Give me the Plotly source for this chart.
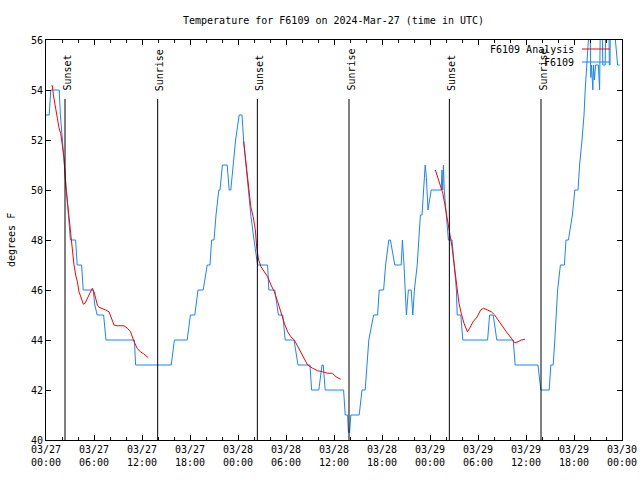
import plotly.graph_objects as go

# ---------------- data (hours since 2024-03-27 00:00 UTC) ----------------
blue_hours = [0.0, 0.4, 0.6, 1.65, 1.8, 2.05, 2.3, 2.55, 2.8, 3.05, 3.7, 3.9, 4.45, 4.65,
              5.65, 5.9, 6.1, 6.4, 7.2, 7.5, 11.05, 11.2, 15.65, 16.05, 17.65, 18.05, 18.6,
              19.0, 19.65, 20.15, 20.5, 20.7, 21.0, 21.25, 21.6, 21.75, 22.05, 22.65, 22.9,
              23.1, 23.4, 23.7, 24.15, 24.5, 24.7, 25.0, 25.3, 25.6, 26.0, 26.45, 27.7, 27.85,
              28.6, 29.05, 29.6, 29.9, 31.0, 31.5, 33.0, 33.2, 34.1, 34.5, 34.65, 34.9, 37.2,
              37.4, 37.7, 37.8, 37.95, 38.1, 39.15, 39.5, 39.9, 40.1, 40.35, 40.95, 41.45,
              41.65, 42.2, 42.45, 42.85, 43.05, 43.3, 43.6, 44.4, 44.55, 44.75, 45.05, 45.3,
              45.65, 45.85, 46.05, 46.4, 46.6, 46.8, 47.0, 47.2, 47.4, 47.55, 47.75, 47.95,
              48.15, 49.4, 49.5, 49.58, 49.68, 49.78, 50.05, 50.3, 50.75, 51.05, 51.3, 51.4,
              51.85, 52.1, 55.2, 55.45, 55.9, 56.35, 58.4, 58.65, 61.5, 61.85, 62.9, 63.1,
              63.4, 63.6, 63.8, 63.95, 64.3, 64.8, 65.0, 65.3, 65.8, 66.1, 66.5, 66.7, 67.0,
              67.25, 67.4, 67.6, 67.85, 68.0, 68.1, 68.2, 68.35, 68.45, 68.55, 68.7, 69.05,
              69.2, 69.3, 69.5, 69.6, 69.9, 69.97, 70.35, 70.42, 70.5, 70.55, 70.9, 71.45, 71.7]
blue_temps = [53, 53, 54, 54, 53, 52, 51, 50, 49, 48, 48, 47, 47, 46,
              46, 46, 45.4, 45, 45, 44, 44, 43, 43, 44, 44, 45, 45,
              46, 46, 47, 47, 48, 48, 49, 50, 50, 51, 51, 50,
              50, 51, 52, 53, 53, 52, 51, 50, 49, 48, 47, 47, 46,
              46, 45, 45, 44, 44, 43, 43, 42, 42, 43, 43, 42, 42,
              41, 41, 40.3, 40.3, 41, 41, 42, 42, 43, 44, 45, 45,
              46, 46, 47, 48, 48, 47.6, 47, 47, 48, 47, 45, 46,
              46, 45, 46, 47, 48, 49, 49, 50, 51, 50.5, 49.2, 49.6,
              50, 50, 50.8, 50, 51, 50, 49, 48, 48, 47, 46, 45,
              45, 44, 44, 45, 45, 44, 44, 43, 43, 42, 42, 43,
              43, 44, 45, 46, 47, 47, 48, 48, 49, 50, 50, 51, 52,
              53, 54, 55, 56, 57, 54.5, 55, 54, 55, 54.4, 55, 55,
              54, 57, 57, 55, 55, 57, 57, 55, 55, 57, 57, 55, 55]

analysis1_hours = [0.67, 0.8, 0.92, 1.125, 1.42, 1.625, 1.83, 2.04, 2.25, 2.46, 2.67, 2.875,
                   3.08, 3.29, 3.5, 3.71, 3.92, 4.125, 4.42, 4.67, 4.875, 5.17, 5.5, 5.79, 6.0,
                   6.2, 6.42, 6.625, 7.04, 7.46, 7.875, 8.08, 8.5, 8.9, 9.33, 9.75, 10.17,
                   10.58, 11.0, 11.4, 11.8, 12.2, 12.79]
analysis1_temps = [54.17, 54.17, 53.8, 53.33, 52.87, 52.49, 52.27, 51.8, 51.27, 50.2, 49.53,
                   49.13, 48.47, 47.67, 47.0, 46.6, 46.33, 45.93, 45.67, 45.43, 45.47, 45.67,
                   45.93, 46.07, 45.93, 45.67, 45.4, 45.31, 45.27, 45.2, 45.13, 44.93, 44.6,
                   44.57, 44.56, 44.57, 44.47, 44.33, 43.93, 43.67, 43.53, 43.45, 43.29]

analysis2_hours = [24.7, 25.0, 25.3, 25.6, 25.9, 26.17, 26.33, 26.58, 26.875, 27.29, 27.7,
                   28.125, 28.54, 28.96, 29.375, 29.79, 30.2, 30.6, 31.04, 31.46, 31.875,
                   32.29, 32.7, 33.33, 33.96, 34.58, 35.2, 35.8, 36.25, 36.83]
analysis2_temps = [51.95, 51.07, 50.13, 49.33, 48.93, 48.4, 47.73, 47.2, 46.93, 46.73, 46.53,
                   46.2, 45.93, 45.53, 45.07, 44.67, 44.33, 44.13, 44.0, 43.73, 43.47, 43.2,
                   43.0, 42.87, 42.77, 42.73, 42.67, 42.67, 42.53, 42.43]

analysis3_hours = [48.67, 49.0, 49.29, 49.6, 49.83, 50.04, 50.33, 50.54, 50.75, 51.0, 51.2,
                   51.42, 51.625, 51.9, 52.25, 52.67, 52.96, 53.375, 53.9, 54.33, 54.7, 55.17,
                   55.67, 56.08, 56.5, 57.0, 57.54, 58.17, 58.58, 59.0, 59.4, 59.875]
analysis3_temps = [50.8, 50.47, 50.2, 49.87, 49.47, 49.07, 48.4, 48.07, 47.73, 47.07, 46.53,
                   46.0, 45.47, 45.07, 44.67, 44.33, 44.47, 44.73, 44.93, 45.2, 45.27, 45.2,
                   45.13, 45.0, 44.8, 44.6, 44.33, 44.07, 43.89, 43.93, 44.0, 44.03]

sun_hours = [2.375, 13.96, 26.42, 37.875, 50.42, 61.875]
sun_labels = ["Sunset", "Sunrise", "Sunset", "Sunrise", "Sunset", "Sunrise"]

tick_hours = [0, 6, 12, 18, 24, 30, 36, 42, 48, 54, 60, 66, 72]
tick_labels = ["03/27<br>00:00", "03/27<br>06:00", "03/27<br>12:00", "03/27<br>18:00",
               "03/28<br>00:00", "03/28<br>06:00", "03/28<br>12:00", "03/28<br>18:00",
               "03/29<br>00:00", "03/29<br>06:00", "03/29<br>12:00", "03/29<br>18:00",
               "03/30<br>00:00"]
y_ticks = [40, 42, 44, 46, 48, 50, 52, 54, 56]

# ---------------- styling ----------------
FONT = "DejaVu Sans Mono"
RED = "#ff0000"
BLUE = "#1a84ff"
W, H = 640, 480
# plot area on screen: x 46..622, y 40..440
L, T = 46, 40
R = W - 622
B = H - 440
PW, PH = W - L - R, H - T - B

def px_x(p):
    return (p - L) / PW

def px_y(p):
    return (H - B - p) / PH

fig = go.Figure()
fig.add_trace(go.Scatter(x=blue_hours, y=blue_temps, mode="lines", name="F6109",
                         line=dict(color=BLUE, width=1), showlegend=False))
for hrs, tmp in [(analysis1_hours, analysis1_temps), (analysis2_hours, analysis2_temps),
                 (analysis3_hours, analysis3_temps)]:
    fig.add_trace(go.Scatter(x=hrs, y=tmp, mode="lines", name="F6109 Analysis",
                             line=dict(color=RED, width=1), showlegend=False))

shapes = []
annotations = []
for h, lab in zip(sun_hours, sun_labels):
    shapes.append(dict(type="line", xref="x", yref="y", x0=h, x1=h, y0=40, y1=53.64,
                       line=dict(color="black", width=1)))
    annotations.append(dict(x=h + 0.2, y=53.88, xref="x", yref="y", text=lab,
                            textangle=-90, showarrow=False, xanchor="center",
                            yanchor="bottom", font=dict(family=FONT, size=10, color="black")))

# manual legend (text left of sample line, like gnuplot)
legend_items = [("F6109 Analysis", RED, 49.5), ("F6109", BLUE, 62.5)]
for name, col, ypix in legend_items:
    annotations.append(dict(x=px_x(576), y=px_y(ypix), xref="paper", yref="paper", text=name,
                            showarrow=False, xanchor="right", yanchor="middle",
                            font=dict(family=FONT, size=10, color="black")))
    shapes.append(dict(type="line", xref="paper", yref="paper", x0=px_x(582), x1=px_x(610),
                       y0=px_y(ypix - 0.5), y1=px_y(ypix - 0.5), line=dict(color=col, width=1)))

annotations.append(dict(x=px_x(333), y=px_y(20.5), xref="paper", yref="paper",
                        text="Temperature for F6109 on 2024-Mar-27 (time in UTC)",
                        showarrow=False, xanchor="center", yanchor="middle",
                        font=dict(family=FONT, size=10, color="black")))
annotations.append(dict(x=px_x(11), y=px_y(240), xref="paper", yref="paper", text="degrees F",
                        showarrow=False, textangle=-90, xanchor="center", yanchor="middle",
                        font=dict(family=FONT, size=10, color="black")))

fig.update_layout(
    width=W, height=H,
    margin=dict(l=L, r=R, t=T, b=B, pad=0, autoexpand=False),
    paper_bgcolor="white", plot_bgcolor="white",
    font=dict(family=FONT, size=10, color="black"),
    shapes=shapes, annotations=annotations, showlegend=False,
    xaxis=dict(range=[0, 72], tickmode="array", tickvals=tick_hours, ticktext=tick_labels,
               ticks="inside", ticklen=5, tickcolor="black", showline=True, linecolor="black",
               linewidth=1, mirror="ticks", showgrid=False, zeroline=False, automargin=False,
               ticklabeloverflow="allow",
               tickfont=dict(family=FONT, size=10, color="black"),
               minor=dict(dtick=2, tick0=0, ticks="inside", ticklen=3, tickcolor="black",
                          showgrid=False)),
    yaxis=dict(range=[40, 56], tickmode="array", tickvals=y_ticks, automargin=False,
               ticks="inside", ticklen=5, tickcolor="black", showline=True, linecolor="black",
               linewidth=1, mirror="ticks", showgrid=False, zeroline=False,
               tickfont=dict(family=FONT, size=10, color="black")),
)

# remove the default 8px page margin so the figure fills the 640x480 window exactly
fig.write_html("out.html", config={"displayModeBar": False, "staticPlot": True},
               post_script="document.body.style.margin='0';document.body.style.overflow='hidden';")
